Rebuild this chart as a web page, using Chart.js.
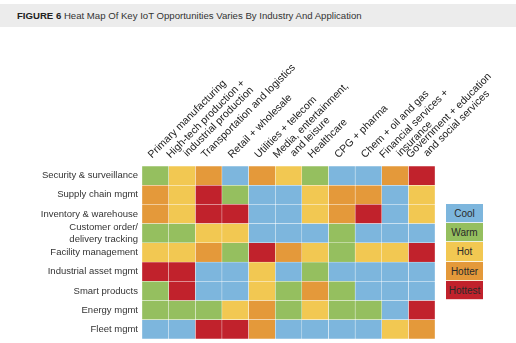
<!DOCTYPE html>
<html>
<head>
<meta charset="utf-8">
<script src="https://cdn.jsdelivr.net/npm/chart.js@4"></script>
<style>
  body { margin: 0; background: #fff; font-family: "Liberation Sans", Arial, sans-serif; }
  .wrap { position: relative; width: 516px; height: 343px; overflow: hidden; }
  .title { position: absolute; left: 0; top: 4px; width: 516px; height: 23px; background: #ececec;
    font-size: 9.6px; line-height: 23px; color: #333; padding-left: 17px; box-sizing: border-box; z-index: 2; }
  .title b { color: #222; }
  canvas { position: absolute; left: 0; top: 0; }
  .legend { position: absolute; left: 446px; top: 204px; width: 37px; z-index: 2; }
  .legend div { height: 19.2px; line-height: 19.2px; text-align: center; font-size: 10px; color: #2a2a2a;
    border-bottom: 0.5px solid rgba(255,255,255,0.8); box-sizing: border-box; }
</style>
</head>
<body>
<div class="wrap">
  <div class="title"><b>FIGURE 6</b> Heat Map Of Key IoT Opportunities Varies By Industry And Application</div>
  <canvas id="heat" width="516" height="343"></canvas>
  <div class="legend" id="legend"></div>
</div>
<script>
// columns (industries)
const industries = [
  'Primary manufacturing',
  ['High-tech production +', 'industrial production'],
  'Transportation and logistics',
  'Retail + wholesale',
  'Utilities + telecom',
  ['Media, entertainment,', 'and leisure'],
  'Healthcare',
  'CPG + pharma',
  'Chem + oil and gas',
  ['Financial services +', 'insurance'],
  ['Government + education', 'and social services']
];

// rows (applications)
const applications = [
  'Security & surveillance',
  'Supply chain mgmt',
  'Inventory & warehouse',
  ['Customer order/', 'delivery tracking'],
  'Facility management',
  'Industrial asset mgmt',
  'Smart products',
  'Energy mgmt',
  'Fleet mgmt'
];

const levels = ['Cool', 'Warm', 'Hot', 'Hotter', 'Hottest'];
const levelColors = ['#7db6dd', '#95bf5f', '#f2c852', '#e4993a', '#c1222c'];

// heat level per cell, 1 = Cool ... 5 = Hottest (one row per application)
const heat = [
  [2, 3, 4, 1, 4, 3, 2, 1, 1, 4, 5],
  [4, 3, 5, 2, 1, 1, 3, 4, 4, 1, 3],
  [4, 3, 5, 5, 1, 1, 3, 4, 5, 1, 3],
  [2, 2, 3, 3, 1, 1, 1, 2, 1, 1, 1],
  [3, 3, 4, 2, 5, 4, 3, 2, 3, 3, 5],
  [5, 5, 1, 1, 3, 1, 2, 1, 1, 1, 1],
  [2, 5, 1, 1, 3, 2, 4, 2, 1, 1, 1],
  [2, 2, 2, 3, 4, 2, 3, 2, 2, 1, 5],
  [1, 1, 5, 5, 4, 1, 1, 1, 1, 3, 4]
];

// one stacked dataset per industry column, each cell takes one unit
const datasets = industries.map((name, j) => ({
  label: Array.isArray(name) ? name.join(' ') : name,
  data: applications.map(() => 1),
  backgroundColor: heat.map(row => levelColors[row[j] - 1]),
  borderColor: 'rgba(255,255,255,0.85)',
  borderWidth: 0.5,
  borderSkipped: false,
  barPercentage: 1,
  categoryPercentage: 1
}));

const fontFamily = '"Liberation Sans", Arial, sans-serif';

// slanted column labels, placed on the top category scale
const topLabels = {
  id: 'topLabels',
  afterDraw(chart) {
    const scale = chart.scales.x2;
    const ctx = chart.ctx;
    ctx.save();
    ctx.font = '10.5px ' + fontFamily;
    ctx.fillStyle = '#222';
    ctx.textAlign = 'left';
    ctx.textBaseline = 'alphabetic';
    industries.forEach((label, i) => {
      const lines = Array.isArray(label) ? label : [label];
      const x = scale.getPixelForTick(i);
      lines.forEach((line, k) => {
        const dx = lines.length === 1 ? -3.3 : -11.5 + k * 17;
        const y = scale.bottom - 7.5 - k * 1.5;
        ctx.save();
        ctx.translate(x + dx, y);
        ctx.rotate(-Math.PI / 4);
        ctx.fillText(line, 0, 0);
        ctx.restore();
      });
    });
    ctx.restore();
  }
};

new Chart(document.getElementById('heat'), {
  type: 'bar',
  data: { labels: applications, datasets: datasets },
  plugins: [topLabels],
  options: {
    indexAxis: 'y',
    responsive: false,
    animation: false,
    devicePixelRatio: 1,
    layout: { padding: { left: 0, right: 81, top: 0, bottom: 4 } },
    plugins: { legend: { display: false }, tooltip: { enabled: false } },
    scales: {
      x: { type: 'linear', stacked: true, min: 0, max: industries.length, display: false },
      y: {
        stacked: true,
        grid: { display: false, drawTicks: false },
        border: { display: false },
        ticks: {
          color: '#333',
          autoSkip: false,
          padding: 4,
          font: { family: fontFamily, size: 9.5, lineHeight: 1.2 }
        },
        afterFit: function (scale) {
          scale.width = 142;
          scale.paddingTop = 0;
          scale.paddingBottom = 0;
        }
      },
      x2: {
        type: 'category',
        position: 'top',
        labels: industries,
        offset: true,
        grid: { display: false, drawTicks: false },
        border: { display: false },
        ticks: { display: false, autoSkip: false },
        afterFit: function (scale) {
          scale.height = 166;
          scale.paddingLeft = 0;
          scale.paddingRight = 0;
        }
      }
    }
  }
});

// legend blocks on the right
const legendBox = document.getElementById('legend');
levels.forEach((name, i) => {
  const d = document.createElement('div');
  d.textContent = name;
  d.style.background = levelColors[i];
  legendBox.appendChild(d);
});
</script>
</body>
</html>
